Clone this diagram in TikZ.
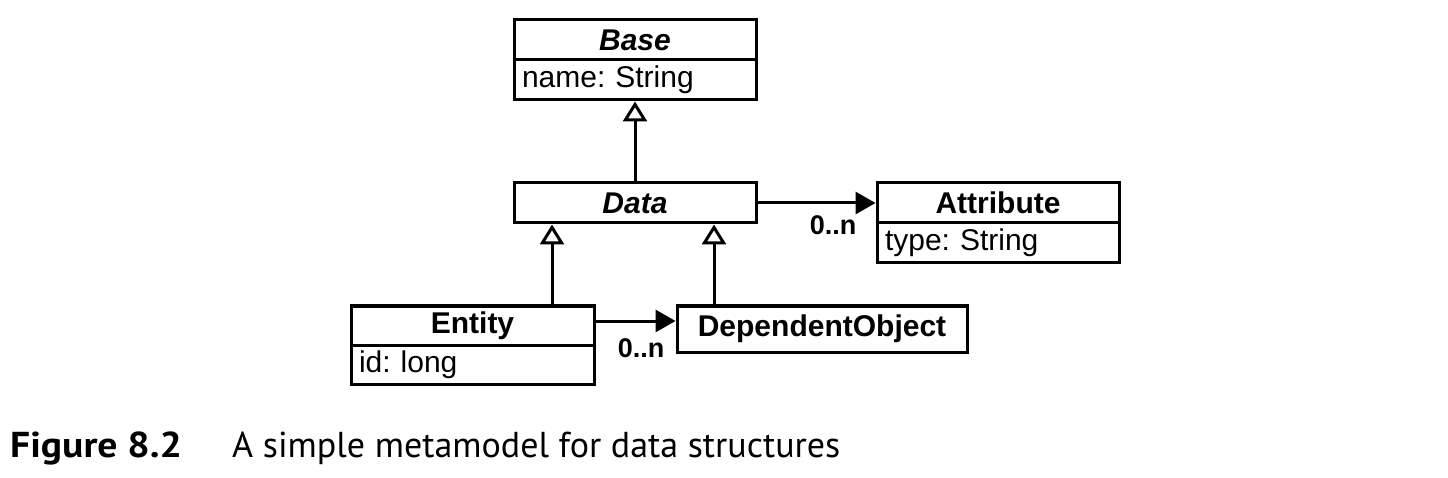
\documentclass[tikz,border=0pt]{standalone}
\usepackage{fontspec}
\setmainfont{Liberation Sans}
\newfontfamily\capfont{PT Sans}
\newfontfamily\capfontwide{PT Sans}[FakeStretch=1.1]
\usetikzlibrary{arrows.meta}
\begin{document}
\frenchspacing
\begin{tikzpicture}[x=1pt,y=-1pt,
  cls/.style={draw, line width=3pt, inner sep=0pt, minimum height=40pt, font=\fontsize{30}{36}\selectfont\bfseries},
  abs/.style={cls, font=\fontsize{30}{36}\selectfont\bfseries\itshape},
  attr/.style={draw, line width=3pt, inner ysep=0pt, inner xsep=8pt, minimum height=40pt, align=left, font=\fontsize{30}{36}\selectfont},
  gen/.style={draw, line width=3pt, -{Triangle[open,length=20pt,width=24pt,line width=3pt]}},
  assoc/.style={draw, line width=3pt, -{Triangle[length=20pt,width=22pt]}},
  mult/.style={font=\fontsize{27}{32}\selectfont\bfseries, inner sep=0pt},
  capbold/.style={anchor=base west, inner sep=0pt, font=\capfontwide\bfseries\fontsize{36}{42}\selectfont},
  capnorm/.style={anchor=base west, inner sep=0pt, font=\capfont\fontsize{36}{42}\selectfont}
]
\useasboundingbox (0,0) rectangle (1448,478);

% Base
\node[abs, minimum width=242pt] (baseH) at (635,40) {Base};
\node[attr, text width=226pt] (baseA) at (635,80) {name: String};
% Data
\node[abs, minimum width=242pt] (data) at (635,203) {Data};
% Attribute
\node[cls, minimum width=242pt] (attrH) at (998,203) {Attribute};
\node[attr, text width=226pt] (attrA) at (998,243) {type: String};
% Entity
\node[cls, minimum width=243pt, minimum height=39pt] (entH) at (472.5,325.5) {Entity};
\node[attr, text width=227pt, minimum height=39pt] (entA) at (472.5,364.5) {id: long};
% DependentObject
\node[cls, minimum width=290pt, minimum height=46pt] (dep) at (822,329) {DependentObject};

% generalizations
\draw[gen] (data.north) -- (baseA.south);
\draw[gen] ([xshift=79.5pt]entH.north) -- ([xshift=79.5pt]entH.north |- data.south);
\draw[gen] ([xshift=-108pt]dep.north) -- ([xshift=-108pt]dep.north |- data.south);

% associations
\draw[assoc] (data.east) -- (attrH.west);
\draw[assoc] ([yshift=4.5pt]entH.east) -- ([yshift=4.5pt]entH.east -| dep.west);
\node[mult] (m1) at (833,225) {0..n};
\node[mult] (m2) at (641,348) {0..n};

% caption
\node[capbold] (figlbl) at (10,457) {Figure 8.2};
\node[capnorm] (figcap) at (232,457) {A simple metamodel for data structures};
\end{tikzpicture}
\end{document}
